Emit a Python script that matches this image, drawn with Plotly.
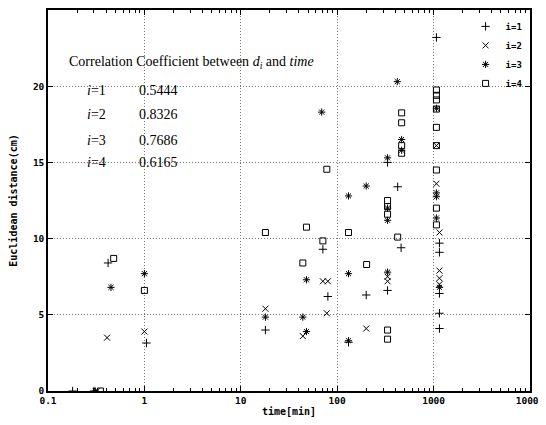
import plotly.graph_objects as go

# ---- data (time [min], Euclidean distance [cm]) ----
t1 = [0.18, 0.30, 0.42, 1.05, 18, 71, 80, 131, 200, 333, 424, 460, 333, 1070, 1150, 1150, 1150, 1150, 1150]
d1 = [0.0, 0.0, 8.4, 3.15, 4.0, 9.3, 6.2, 3.2, 6.3, 15.0, 13.4, 9.4, 6.6, 23.2, 9.7, 9.1, 6.4, 5.1, 4.1]

t2 = [0.32, 0.41, 1.0, 18, 44, 71, 80, 78, 200, 333, 333, 1070, 1070, 1150, 1150, 1150, 1150]
d2 = [0.0, 3.5, 3.9, 5.4, 3.6, 7.2, 7.2, 5.1, 4.1, 7.5, 7.2, 16.1, 13.6, 10.4, 7.9, 7.4, 7.0]

t3 = [0.31, 0.45, 1.0, 18, 48, 44, 48, 69, 131, 200, 131, 131, 420, 466, 466, 333, 333, 333, 333,
      1070, 1070, 1070, 1070, 1150]
d3 = [0.0, 6.8, 7.7, 4.85, 7.3, 4.85, 3.9, 18.3, 12.8, 13.45, 7.7, 3.3, 20.3, 16.5, 15.8, 15.3, 12.0, 11.2, 7.8,
      18.55, 12.75, 11.35, 13.0, 6.8]

t4 = [0.35, 0.48, 1.0, 18, 48, 44, 71, 78, 131, 202, 466, 466, 466, 466, 333, 333, 333, 424, 333, 333,
      1070, 1070, 1070, 1070, 1070, 1070, 1070, 1070, 1070]
d4 = [0.0, 8.7, 6.6, 10.4, 10.75, 8.4, 9.85, 14.55, 10.4, 8.3, 18.25, 17.6, 16.1, 15.6, 12.5, 12.1, 11.6, 10.1, 4.0, 3.4,
      19.75, 19.4, 19.1, 18.5, 17.3, 16.1, 14.5, 12.0, 10.9]

names = ["i=1", "i=2", "i=3", "i=4"]
symbols = ["cross-thin-open", "x-thin-open", "asterisk-open", "square-open"]
corr_labels = ["<i>i</i>=1", "<i>i</i>=2", "<i>i</i>=3", "<i>i</i>=4"]
corr_values = ["0.5444", "0.8326", "0.7686", "0.6165"]

x_ticks = [0.1, 1, 10, 100, 1000, 10000]
x_tick_text = ["0.1", "1", "10", "100", "1000", "10000"]
y_ticks = [0, 5, 10, 15, 20, 25]

mono = "DejaVu Sans Mono"
serif = "Liberation Serif"

fig = go.Figure()
for t, d, nm, sym in zip([t1, t2, t3, t4], [d1, d2, d3, d4], names, symbols):
    fig.add_trace(go.Scatter(
        x=t, y=d, mode="markers", name=nm,
        marker=dict(symbol=sym, size=6, color="black", line=dict(color="#222222", width=1)),
    ))

axis_common = dict(
    showline=True, linecolor="black", linewidth=1.5, mirror="ticks",
    ticks="inside", ticklen=5, tickcolor="black",
    showgrid=True, gridcolor="#777777", griddash="1px,2px", gridwidth=1,
    zeroline=False, automargin=False,
    tickfont=dict(family=mono, size=9.5, color="black", weight="bold"),
)

fig.update_xaxes(
    type="log", range=[-1, 4], tickvals=x_ticks, ticktext=x_tick_text,
    minor=dict(ticks="inside", ticklen=3, tickcolor="black", dtick="D1", showgrid=False),
    title=dict(text="time[min]", font=dict(family=mono, size=10, color="black", weight="bold"), standoff=3),
    **axis_common,
)
fig.update_yaxes(
    range=[0, 25], tickvals=y_ticks,
    title=dict(text="Euclidean distance(cm)", font=dict(family=mono, size=10, color="black", weight="bold"), standoff=14),
    **axis_common,
)

# correlation coefficient text block (paper coords relative to plot area)
PW, PH = 482, 381
fig.add_annotation(
    xref="paper", yref="paper", x=(67 - 48) / PW, y=(391 - 62) / PH,
    xanchor="left", yanchor="middle", showarrow=False,
    text="Correlation Coefficient between <i>d</i><sub><i>i</i></sub> and <i>time</i>",
    font=dict(family=serif, size=14, color="black"),
)
row_y = [90, 115, 140, 163]
for lab, val, yy in zip(corr_labels, corr_values, row_y):
    fig.add_annotation(
        xref="paper", yref="paper", x=(85 - 48) / PW, y=(391 - yy) / PH,
        xanchor="left", yanchor="middle", showarrow=False,
        text=lab, font=dict(family=serif, size=14, color="black"),
    )
    fig.add_annotation(
        xref="paper", yref="paper", x=(137 - 48) / PW, y=(391 - yy) / PH,
        xanchor="left", yanchor="middle", showarrow=False,
        text=val, font=dict(family=serif, size=14, color="black"),
    )

# page body has an 8px default margin, so the figure is sized/offset to compensate
fig.update_layout(
    width=538, height=417,
    margin=dict(l=40, r=16, t=2, b=34),
    paper_bgcolor="white", plot_bgcolor="white",
    showlegend=True,
    legend=dict(
        x=0.995, y=0.995, xanchor="right", yanchor="top",
        bgcolor="rgba(255,255,255,0)", borderwidth=0,
        font=dict(family=mono, size=9, color="black", weight="bold"),
        tracegroupgap=0, itemwidth=30,
    ),
)

fig.write_html("out.html")
